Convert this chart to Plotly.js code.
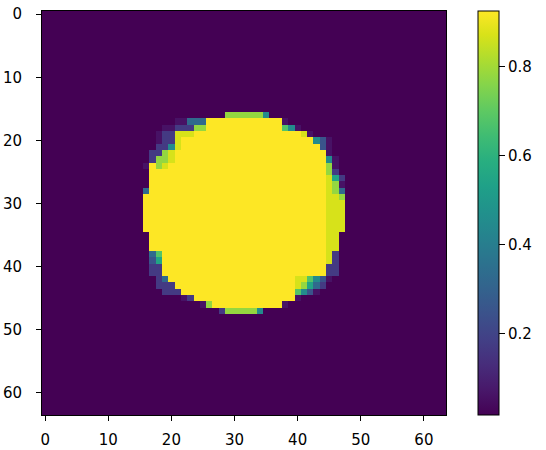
<!DOCTYPE html>
<html>
<head>
<meta charset="utf-8">
<script src="https://cdn.plot.ly/plotly-3.0.1.min.js"></script>
<style>
  body { margin: 0; background: #fff; }
  #plot { width: 546px; height: 450px; }
</style>
</head>
<body>
<div id="plot"></div>
<script>
// colour levels seen in the picture (value for each letter)
var levels = {
  '.': 0.017, f: 0.06, p: 0.17, b: 0.25, B: 0.33, T: 0.45,
  t: 0.55, g: 0.68, G: 0.78, P: 0.87, Y: 0.925
};

// 64 image rows, run-length coded: "29.6G1T28." = 29 x '.', 6 x 'G', 1 x 'T', 28 x '.'
var rows = [
  "64.", "64.", "64.", "64.", "64.", "64.", "64.", "64.",
  "64.", "64.", "64.", "64.", "64.", "64.", "64.", "64.",
  "29.6G1T28.",                 // 16
  "21.2f3B12Y1f25.",            // 17
  "19.2f3p2G12Y1g1T1f23.",      // 18
  "18.1f2p3P17Y1P1f21.",        // 19
  "18.1f2p1P21Y1T1b1f18.",      // 20
  "18.2p1T1P22Y1b1f18.",        // 21
  "17.2p1G1P24Y1f18.",          // 22
  "17.1p2G1P24Y1T1f17.",        // 23
  "16.1f1Y1G1P25Y1G1f17.",      // 24
  "17.28Y1G1p17.",              // 25
  "17.28Y1P1t1p16.",            // 26
  "17.28Y1P1G1f16.",            // 27
  "16.1B28Y1P1G1B16.",          // 28
  "16.29Y2P1G16.",              // 29
  "16.29Y3P16.",                // 30
  "16.29Y3P16.",                // 31
  "16.29Y3P16.",                // 32
  "16.29Y3P16.",                // 33
  "16.29Y3P16.",                // 34
  "17.28Y2P17.",                // 35
  "17.28Y2P17.",                // 36
  "17.28Y2P17.",                // 37
  "17.1B1g26Y1P1p17.",          // 38
  "17.1b1t26Y1P1p17.",          // 39
  "17.2p26Y2p17.",              // 40
  "17.2p26Y2p17.",              // 41
  "18.1p1B20Y2P1g1T1b1f18.",    // 42
  "18.3p19Y1P1G1t1B1p19.",      // 43
  "19.3p18Y1g1T1b1f20.",        // 44
  "22.1f1p16Y1f23.",            // 45
  "25.1f1G11Y1f25.",            // 46
  "28.1p5G1T29.",               // 47
  "64.", "64.", "64.", "64.", "64.", "64.", "64.", "64.",
  "64.", "64.", "64.", "64.", "64.", "64.", "64.", "64."
];

var tickVals = [0, 10, 20, 30, 40, 50, 60];
var cbarTicks = [0.2, 0.4, 0.6, 0.8];
var zMin = 0.017, zMax = 0.925;

function decode(s) {
  var out = [];
  s.replace(/(\d+)(\D)/g, function (m, n, c) {
    for (var k = 0; k < +n; k++) out.push(levels[c]);
  });
  return out;
}
var z = rows.map(decode);

var font = { family: 'DejaVu Sans', size: 15, color: '#000' };

var axis = {
  tickvals: tickVals,
  ticks: 'outside',
  ticklen: 5,
  tickwidth: 1,
  tickcolor: '#000',
  ticklabelstandoff: 6,
  showline: true,
  mirror: true,
  linecolor: '#000',
  linewidth: 1,
  showgrid: false,
  zeroline: false,
  tickfont: font
};

var trace = {
  z: z,
  type: 'heatmap',
  colorscale: 'Viridis',
  zmin: zMin,
  zmax: zMax,
  zsmooth: false,
  hoverinfo: 'z',
  colorbar: {
    thickness: 21,
    thicknessmode: 'pixels',
    len: 1,
    lenmode: 'fraction',
    x: 1.078,
    xanchor: 'left',
    xpad: 0,
    y: 0.5,
    yanchor: 'middle',
    ypad: 0,
    outlinewidth: 1,
    outlinecolor: '#000',
    tickvals: cbarTicks,
    ticktext: ['0.2', '0.4', '0.6', '0.8'],
    ticks: 'outside',
    ticklen: 6,
    tickcolor: '#000',
    tickfont: font
  }
};

var layout = {
  width: 546,
  height: 450,
  margin: { l: 42, r: 100, t: 11, b: 35 },
  paper_bgcolor: '#fff',
  plot_bgcolor: '#fff',
  font: font,
  xaxis: Object.assign({}, axis, { range: [-0.5, 63.5] }),
  yaxis: Object.assign({}, axis, { range: [63.5, -0.5], ticklabelstandoff: 11 })
};

Plotly.newPlot('plot', [trace], layout, { displayModeBar: false, staticPlot: true });
</script>
</body>
</html>
